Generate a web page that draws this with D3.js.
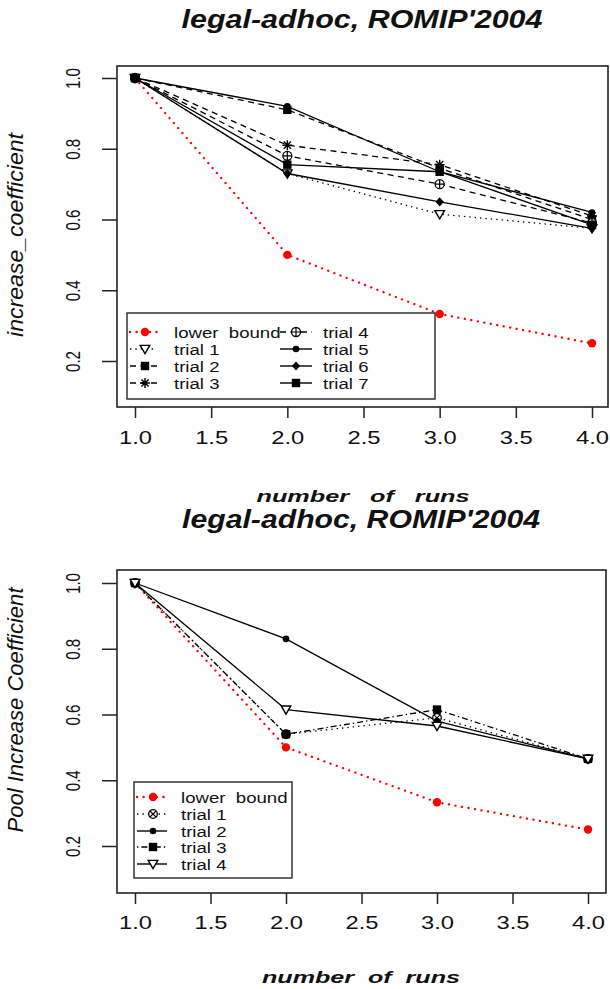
<!DOCTYPE html>
<html>
<head>
<meta charset="utf-8">
<script src="https://cdn.jsdelivr.net/npm/d3@7"></script>
<style>
  html, body { margin: 0; padding: 0; background: #fff; }
  svg { display: block; }
  text { font-family: "Liberation Sans", Arial, sans-serif; fill: #111; }
</style>
</head>
<body>
<svg id="chart" width="610" height="989"></svg>
<script>
// ---- data ----
const runs = [1, 2, 3, 4];
const xTicks = [1.0, 1.5, 2.0, 2.5, 3.0, 3.5, 4.0];
const yTicks = [0.2, 0.4, 0.6, 0.8, 1.0];
const titleText = "legal-adhoc, ROMIP'2004";

const lowerBound = [1.0, 0.5, 0.333, 0.25];

// increase coefficient per number of runs, seven trials
const topTrial1 = [1.0, 0.73, 0.615, 0.575];
const topTrial2 = [1.0, 0.91, 0.745, 0.60];
const topTrial3 = [1.0, 0.81, 0.755, 0.61];
const topTrial4 = [1.0, 0.78, 0.70, 0.59];
const topTrial5 = [1.0, 0.92, 0.735, 0.62];
const topTrial6 = [1.0, 0.73, 0.65, 0.575];
const topTrial7 = [1.0, 0.755, 0.735, 0.585];
const topNames = ["lower  bound", "trial 1", "trial 2", "trial 3", "trial 4", "trial 5", "trial 6", "trial 7"];

// pool increase coefficient, four trials
const botTrial1 = [1.0, 0.54, 0.59, 0.465];
const botTrial2 = [1.0, 0.83, 0.58, 0.465];
const botTrial3 = [1.0, 0.54, 0.615, 0.465];
const botTrial4 = [1.0, 0.615, 0.565, 0.465];
const botNames = ["lower  bound", "trial 1", "trial 2", "trial 3", "trial 4"];

// ---- styles ----
const DASH = { solid: null, dotted: "1.4,4", dashed: "6,4.5", dotdash: "1.4,3,6,3", reddot: "0.1,6.5" };

const svg = d3.select("#chart");
svg.append("rect").attr("width", 610).attr("height", 989).attr("fill", "#fff");

function marker(g, type, cx, cy, color) {
  const m = g.append("g").attr("transform", `translate(${cx},${cy})`);
  const c = color || "#000";
  switch (type) {
    case "redDot":
      m.append("circle").attr("r", 4.2).attr("fill", c); break;
    case "triDown":
      m.append("path").attr("d", "M-4.8,-3.6L4.8,-3.6L0,4.6Z").attr("fill", "#fff").attr("stroke", c).attr("stroke-width", 1.4); break;
    case "square":
      m.append("rect").attr("x", -4.2).attr("y", -4.2).attr("width", 8.4).attr("height", 8.4).attr("fill", c); break;
    case "star":
      m.append("path").attr("d", "M-5,0H5M0,-5V5M-3.6,-3.6L3.6,3.6M-3.6,3.6L3.6,-3.6").attr("stroke", c).attr("stroke-width", 1.4); break;
    case "circlePlus":
      m.append("circle").attr("r", 4.5).attr("fill", "#fff").attr("stroke", c).attr("stroke-width", 1.3);
      m.append("path").attr("d", "M-4.5,0H4.5M0,-4.5V4.5").attr("stroke", c).attr("stroke-width", 1.2); break;
    case "circleCross":
      m.append("circle").attr("r", 4.3).attr("fill", "#fff").attr("stroke", c).attr("stroke-width", 1.3);
      m.append("path").attr("d", "M-3,-3L3,3M-3,3L3,-3").attr("stroke", c).attr("stroke-width", 1.1); break;
    case "dot":
      m.append("circle").attr("r", 3.3).attr("fill", c); break;
    case "diamond":
      m.append("path").attr("d", "M0,-4.6L4.2,0L0,4.6L-4.2,0Z").attr("fill", c); break;
  }
}

// stretch a text element horizontally by a factor of its natural width
function stretch(t, f) {
  const w = t.node().getComputedTextLength();
  t.attr("textLength", w * f).attr("lengthAdjust", "spacingAndGlyphs");
}

function strokeFor(s) {
  return s.dash === "reddot" ? 2.3 : 1.3;
}

function panel(cfg) {
  const x = d3.scaleLinear().domain([1, 4]).range(cfg.xRange);
  const y = d3.scaleLinear().domain([0.2, 1.0]).range(cfg.yRange);
  const g = svg.append("g");

  // x axis
  const xAxis = g.append("g").attr("transform", `translate(0,${cfg.box[3]})`)
    .call(d3.axisBottom(x).tickValues(xTicks).tickSize(11).tickSizeOuter(0).tickFormat(d3.format(".1f")));
  xAxis.select(".domain").remove();
  xAxis.selectAll(".tick line").attr("stroke", "#222").attr("stroke-width", 1.5);
  xAxis.selectAll(".tick text")
    .attr("y", cfg.xLabelDy).attr("dy", null)
    .attr("font-size", 18).attr("font-family", "Liberation Sans, Arial, sans-serif").attr("fill", "#222")
    .attr("textLength", 33).attr("lengthAdjust", "spacingAndGlyphs");

  // y axis
  const yAxis = g.append("g").attr("transform", `translate(${cfg.box[0]},0)`)
    .call(d3.axisLeft(y).tickValues(yTicks).tickSize(15).tickSizeOuter(0).tickFormat(d3.format(".1f")));
  yAxis.select(".domain").remove();
  yAxis.selectAll(".tick line").attr("stroke", "#222").attr("stroke-width", 1.5);
  yAxis.selectAll(".tick text")
    .attr("x", null).attr("dy", null)
    .attr("text-anchor", "middle")
    .attr("transform", "translate(-37,0) rotate(-90)")
    .attr("font-size", 21).attr("font-family", "Liberation Sans, Arial, sans-serif").attr("fill", "#222")
    .attr("textLength", 21).attr("lengthAdjust", "spacingAndGlyphs");

  // series
  const line = d3.line().x((d, i) => x(runs[i])).y(d => y(d));
  cfg.series.forEach(s => {
    g.append("path").datum(s.values).attr("d", line)
      .attr("fill", "none").attr("stroke", s.color)
      .attr("stroke-width", strokeFor(s))
      .attr("stroke-dasharray", DASH[s.dash]).attr("stroke-linecap", s.dash === "reddot" ? "round" : "butt");
  });
  cfg.series.forEach(s => {
    s.values.forEach((v, i) => marker(g, s.marker, x(runs[i]), y(v), s.color));
  });

  // plot frame
  const [l, t, r, b] = cfg.box;
  g.append("rect").attr("x", l).attr("y", t).attr("width", r - l).attr("height", b - t)
    .attr("fill", "none").attr("stroke", "#222").attr("stroke-width", 1.6);

  // legend
  const lb = cfg.legend.box;
  g.append("rect").attr("x", lb[0]).attr("y", lb[1]).attr("width", lb[2] - lb[0]).attr("height", lb[3] - lb[1])
    .attr("fill", "#fff").attr("stroke", "#333").attr("stroke-width", 1.5);
  cfg.series.forEach((s, i) => {
    const p = cfg.legend.pos[i];
    g.append("line").attr("x1", p.lx0).attr("x2", p.lx1).attr("y1", p.y).attr("y2", p.y)
      .attr("stroke", s.color).attr("stroke-width", strokeFor(s) + 0.1)
      .attr("stroke-dasharray", DASH[s.dash]).attr("stroke-linecap", s.dash === "reddot" ? "round" : "butt");
    marker(g, s.marker, p.mx, p.y, s.color);
    const t = g.append("text").attr("x", p.tx).attr("y", p.y + 5.5)
      .attr("font-size", 15.5).style("white-space", "pre").text(s.name);
    stretch(t, 1.2);
  });

  // titles and axis labels
  g.append("text").attr("x", cfg.title[0]).attr("y", cfg.title[1]).attr("text-anchor", "middle")
    .attr("font-size", 26).attr("font-weight", "bold").attr("font-style", "italic")
    .attr("textLength", cfg.title[2]).attr("lengthAdjust", "spacingAndGlyphs")
    .text(titleText);
  g.append("text").attr("x", cfg.xLabel[0]).attr("y", cfg.xLabel[1]).attr("text-anchor", "middle")
    .attr("font-family", "Liberation Serif, Times New Roman, serif")
    .attr("font-size", 16).attr("font-weight", "bold").attr("font-style", "italic")
    .attr("textLength", cfg.xLabel[2]).attr("lengthAdjust", "spacingAndGlyphs")
    .style("white-space", "pre").text(cfg.xLabel[3]);
  g.append("text").attr("transform", `translate(${cfg.yLabel[0]},${cfg.yLabel[1]}) rotate(-90)`)
    .attr("text-anchor", "middle").attr("font-size", 22).attr("font-style", "italic")
    .attr("textLength", cfg.yLabel[2]).attr("lengthAdjust", "spacingAndGlyphs")
    .style("white-space", "pre").text(cfg.yLabel[3]);
}

// upper panel
const topStyles = [
  { dash: "reddot", marker: "redDot", color: "red" },
  { dash: "dotted", marker: "triDown", color: "#000" },
  { dash: "dashed", marker: "square", color: "#000" },
  { dash: "dashed", marker: "star", color: "#000" },
  { dash: "dashed", marker: "circlePlus", color: "#000" },
  { dash: "solid", marker: "dot", color: "#000" },
  { dash: "solid", marker: "diamond", color: "#000" },
  { dash: "solid", marker: "square", color: "#000" }
];
const topValues = [lowerBound, topTrial1, topTrial2, topTrial3, topTrial4, topTrial5, topTrial6, topTrial7];
const topRows = [332, 349, 366, 383];
panel({
  xRange: [135, 592], yRange: [361, 78], box: [117, 66, 608, 407], xLabelDy: 37,
  series: topStyles.map((s, i) => Object.assign({ name: topNames[i], values: topValues[i] }, s)),
  legend: {
    box: [127, 313, 435, 399],
    pos: topNames.map((n, i) => i < 4
      ? { y: topRows[i], lx0: 130, lx1: 157, mx: 145, tx: 174 }
      : { y: topRows[i - 4], lx0: 280, lx1: 312, mx: 296, tx: 323 })
  },
  title: [362, 28, 361],
  xLabel: [363, 502, 213, "number   of   runs"],
  yLabel: [23, 235, 204, "increase_coefficient"]
});

// lower panel
const botStyles = [
  { dash: "reddot", marker: "redDot", color: "red" },
  { dash: "dotted", marker: "circleCross", color: "#000" },
  { dash: "solid", marker: "dot", color: "#000" },
  { dash: "dotdash", marker: "square", color: "#000" },
  { dash: "solid", marker: "triDown", color: "#000" }
];
const botValues = [lowerBound, botTrial1, botTrial2, botTrial3, botTrial4];
const botRows = [797, 814, 831, 847, 864];
panel({
  xRange: [135, 588], yRange: [846, 583], box: [117, 570, 606, 893], xLabelDy: 36,
  series: botStyles.map((s, i) => Object.assign({ name: botNames[i], values: botValues[i] }, s)),
  legend: {
    box: [134, 782, 292, 878],
    pos: botNames.map((n, i) => ({ y: botRows[i], lx0: 137, lx1: 167, mx: 153, tx: 181 }))
  },
  title: [361, 528, 358],
  xLabel: [361, 983, 198, "number  of  runs"],
  yLabel: [23, 710, 245, "Pool Increase Coefficient"]
});
</script>
</body>
</html>
